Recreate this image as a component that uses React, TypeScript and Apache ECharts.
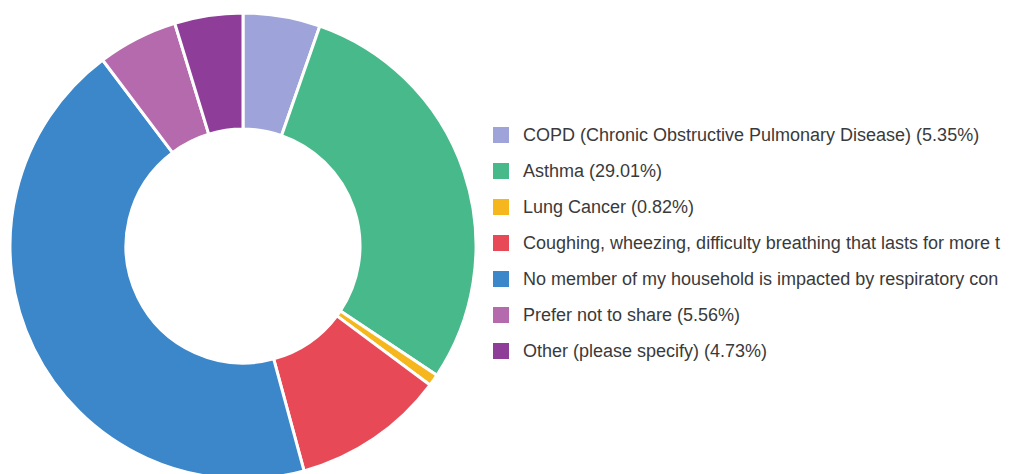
import React, { useEffect, useRef } from "react";
import * as echarts from "echarts";

const categories = [
  "COPD (Chronic Obstructive Pulmonary Disease)",
  "Asthma",
  "Lung Cancer",
  "Coughing, wheezing, difficulty breathing that lasts for more than three weeks",
  "No member of my household is impacted by respiratory conditions",
  "Prefer not to share",
  "Other (please specify)",
];
const percentages = [5.35, 29.01, 0.82, 10.6, 43.93, 5.56, 4.73];
const colors = ["#9ea4d9", "#48b98a", "#f5b71d", "#e84957", "#3b87c9", "#b66aae", "#8e3e99"];

export default function App() {
  const ref = useRef<HTMLDivElement>(null);
  useEffect(() => {
    document.body.style.margin = "0";
    const chart = echarts.init(ref.current!, null, { renderer: "svg" });
    const valueByName: Record<string, number> = {};
    categories.forEach((c, i) => (valueByName[c] = percentages[i]));
    chart.setOption({
      animation: false,
      backgroundColor: "#ffffff",
      color: colors,
      legend: {
        orient: "vertical",
        left: 491,
        top: 125,
        padding: 0,
        icon: "rect",
        itemWidth: 18,
        itemHeight: 18,
        itemGap: 16,
        formatter: (name: string) => `${name} (${valueByName[name].toFixed(2)}%)`,
        textStyle: {
          fontFamily: "Liberation Sans, Arial, sans-serif",
          fontSize: 18,
          color: "#3a3a3a",
          padding: [0, 0, 0, 8],
          width: 481,
          overflow: "truncate",
          ellipsis: "",
        },
      },
      series: [
        {
          type: "pie",
          center: [243, 246],
          radius: [117, 233],
          startAngle: 90,
          clockwise: true,
          label: { show: false },
          labelLine: { show: false },
          itemStyle: { borderColor: "#ffffff", borderWidth: 3 },
          emphasis: { disabled: true },
          data: categories.map((c, i) => ({ name: c, value: percentages[i] })),
        },
      ],
    });
    return () => chart.dispose();
  }, []);
  return (
    <div
      ref={ref}
      style={{ position: "absolute", left: 0, top: 0, width: 1011, height: 474 }}
    />
  );
}
